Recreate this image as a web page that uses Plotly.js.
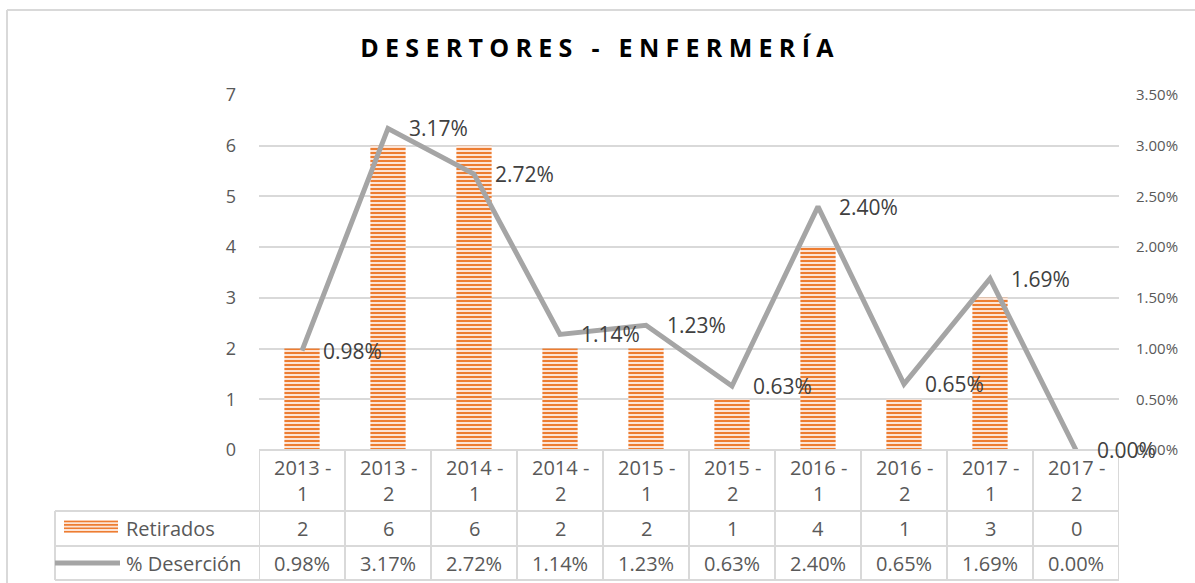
<!DOCTYPE html>
<html><head><meta charset="utf-8">
<script src="https://cdn.plot.ly/plotly-3.0.1.min.js"></script>
<style>body{margin:0;background:#fff} .gtitle{letter-spacing:6.3px}</style>
</head><body><div id="chart" style="width:1195px;height:583px"></div>
<script>
const categories = ['2013 - 1','2013 - 2','2014 - 1','2014 - 2','2015 - 1','2015 - 2','2016 - 1','2016 - 2','2017 - 1','2017 - 2'];
const retirados = [2,6,6,2,2,1,4,1,3,0];
const desercion = [0.0098,0.0317,0.0272,0.0114,0.0123,0.0063,0.0240,0.0065,0.0169,0.0000];
const seriesNames = ['Retirados','% Deserción'];
const chartTitle = 'DESERTORES - ENFERMERÍA';

const L=259,R=1119,T=95,B=450;
const px = x => (x-L)/(R-L);
const py = y => (B-y)/(B-T);
const pct = v => (v*100).toFixed(2)+'%';
const FONT = '"Open Sans", Lato, sans-serif';
const GRAY = '#D9D9D9';

const traces = [
  {type:'bar', x:categories, y:retirados, name:seriesNames[0], yaxis:'y',
   marker:{color:'#FCE4D6', line:{width:0},
     pattern:{shape:'-', fgcolor:'#ED7D31', bgcolor:'#FCE4D6', size:4, solidity:0.5}}},
  {type:'scatter', mode:'lines', x:categories, y:desercion, name:seriesNames[1], yaxis:'y2',
   line:{color:'#A5A5A5', width:5}}
];

const ann = [];
const shapes = [];
categories.forEach((c,i)=>{
  ann.push({x:c, y:desercion[i], xref:'x', yref:'y2', text:pct(desercion[i]), showarrow:false,
    xanchor:'left', yanchor:'middle', xshift:19, font:{family:FONT, size:21, color:'#404040'}});
  ann.push({x:c, y:py(481), xref:'x', yref:'paper', text:c.replace(' - ',' -<br>'), showarrow:false,
    xanchor:'center', yanchor:'middle', font:{family:FONT, size:20, color:'#595959'}});
  ann.push({x:c, y:py(528), xref:'x', yref:'paper', text:String(retirados[i]), showarrow:false,
    xanchor:'center', yanchor:'middle', font:{family:FONT, size:20, color:'#595959'}});
  ann.push({x:c, y:py(563), xref:'x', yref:'paper', text:pct(desercion[i]), showarrow:false,
    xanchor:'center', yanchor:'middle', font:{family:FONT, size:20, color:'#595959'}});
});
ann.push({x:px(124), y:py(528), xref:'paper', yref:'paper', text:seriesNames[0], showarrow:false,
  xanchor:'left', yanchor:'middle', font:{family:FONT, size:20, color:'#595959'}});
ann.push({x:px(124), y:py(563), xref:'paper', yref:'paper', text:seriesNames[1], showarrow:false,
  xanchor:'left', yanchor:'middle', font:{family:FONT, size:20, color:'#595959'}});

const hl = (x0,x1,y)=>shapes.push({type:'line', xref:'paper', yref:'paper', x0:px(x0), x1:px(x1), y0:py(y), y1:py(y), line:{color:GRAY, width:2}});
hl(L,R,450); hl(55,R,511); hl(55,R,546); hl(55,R,580);
for(let i=-1;i<categories.length;i++){
  shapes.push({type:'line', xref:'x', yref:'paper', x0:i+0.5, x1:i+0.5, y0:py(450), y1:py(580), line:{color:GRAY, width:2}});
}
shapes.push({type:'line', xref:'paper', yref:'paper', x0:px(55), x1:px(55), y0:py(511), y1:py(580), line:{color:GRAY, width:2}});
shapes.push({type:'rect', xref:'paper', yref:'paper', x0:px(64), x1:px(118), y0:py(533), y1:py(520), fillcolor:'#FCE4D6', line:{width:0}});
for(let k=0;k<4;k++){
  const yy = 521.5 + k*3.4;
  shapes.push({type:'line', xref:'paper', yref:'paper', x0:px(64), x1:px(118), y0:py(yy), y1:py(yy), line:{color:'#ED7D31', width:1.6}});
}
shapes.push({type:'line', xref:'paper', yref:'paper', x0:px(55), x1:px(120), y0:py(563), y1:py(563), line:{color:'#A5A5A5', width:5}});
shapes.push({type:'line', xref:'paper', yref:'paper', x0:px(7), x1:px(7), y0:py(10), y1:py(600), line:{color:GRAY, width:2}});
shapes.push({type:'line', xref:'paper', yref:'paper', x0:px(7), x1:px(1200), y0:py(10), y1:py(10), line:{color:GRAY, width:2}});

const layout = {
  width:1195, height:583,
  margin:{l:L, r:1195-R, t:T, b:583-B},
  paper_bgcolor:'#fff', plot_bgcolor:'#fff',
  showlegend:false,
  bargap:0.59,
  title:{text:'<b>'+chartTitle+'</b>', x:600/1195, y:1-48/583, xref:'container', yref:'container', xanchor:'center', yanchor:'middle',
    font:{family:'"Open Sans", sans-serif', size:25, color:'#000'}},
  xaxis:{type:'category', range:[-0.5,9.5], showticklabels:false, showgrid:false, zeroline:false, showline:false, ticks:''},
  yaxis:{range:[0,7], dtick:1, tick0:0, gridcolor:GRAY, gridwidth:2, zeroline:false, showline:false, ticks:'',
    tickfont:{family:FONT, size:18, color:'#595959'}, ticklabelstandoff:22},
  yaxis2:{overlaying:'y', side:'right', range:[0,0.035], dtick:0.005, tick0:0, tickformat:'.2%', showgrid:false,
    zeroline:false, showline:false, ticks:'', tickfont:{family:FONT, size:15, color:'#595959'}, ticklabelstandoff:16},
  annotations:ann, shapes:shapes
};
Plotly.newPlot('chart', traces, layout, {displayModeBar:false});
</script></body></html>
